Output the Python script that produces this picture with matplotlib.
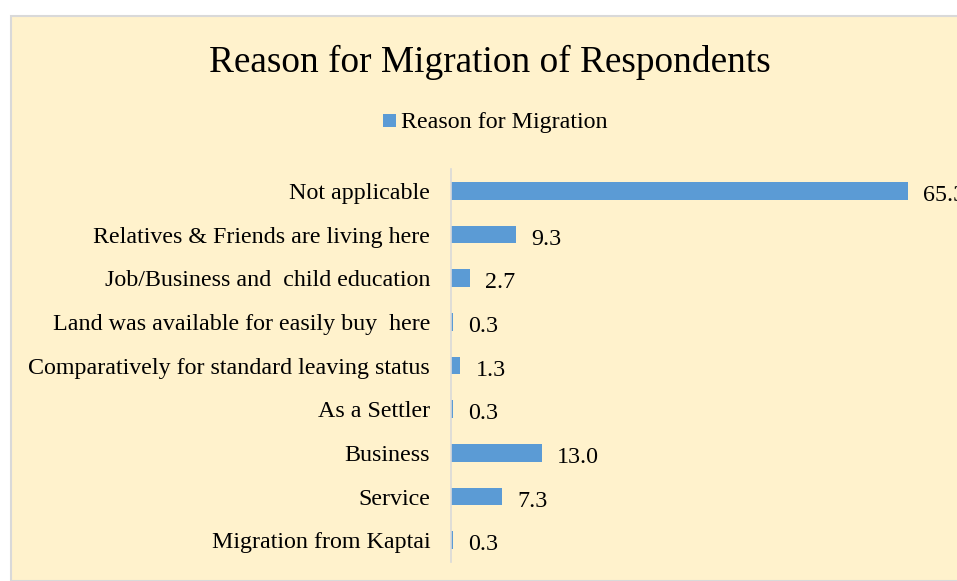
import matplotlib
matplotlib.use("Agg")
import matplotlib.pyplot as plt
from matplotlib.patches import Rectangle

categories = [
    "Not applicable",
    "Relatives & Friends are living here",
    "Job/Business and  child education",
    "Land was available for easily buy  here",
    "Comparatively for standard leaving status",
    "As a Settler",
    "Business",
    "Service",
    "Migration from Kaptai",
]
values = [65.3, 9.3, 2.7, 0.3, 1.3, 0.3, 13.0, 7.3, 0.3]
series_name = "Reason for Migration"
title = "Reason for Migration of Respondents"

bar_color = "#5B9BD5"
panel_color = "#FFF2CC"
font = "Liberation Serif"
label_size = 17.3

W, H, DPI = 957, 581, 100
fig = plt.figure(figsize=(W / DPI, H / DPI), dpi=DPI, facecolor="white")

# chart panel behind everything
fig.patches.append(Rectangle((11 / W, 0), 1.2, 1 - 16 / H, transform=fig.transFigure,
                             facecolor=panel_color, edgecolor="#D9D9D9", linewidth=1.5,
                             zorder=-10))

ax = fig.add_axes([451 / W, 1 - 562 / H, 490 / W, (562 - 169) / H])
ax.set_facecolor("none")
ax.set_zorder(1)

ypos = list(range(len(categories)))
ax.barh(ypos, values, height=0.41, color=bar_color, zorder=2)
ax.set_ylim(len(categories) - 0.5, -0.5)
ax.set_xlim(0, 70)
ax.set_yticks(ypos)
ax.set_yticklabels(categories, fontfamily=font, fontsize=label_size, color="#000000",
                   va="center_baseline")
ax.tick_params(axis="y", length=0, pad=15)
ax.set_xticks([])
for s in ["top", "right", "bottom"]:
    ax.spines[s].set_visible(False)
ax.spines["left"].set_color("#D9D9D9")
ax.spines["left"].set_linewidth(1.2)

for y, v in zip(ypos, values):
    ax.annotate(f"{v:.1f}", xy=(v, y), xytext=(11, -1.5), textcoords="offset points",
                va="center_baseline", ha="left", fontfamily=font, fontsize=label_size,
                color="#000000", annotation_clip=False)

fig.text(490 / W, 1 - 58 / H, title, ha="center", va="center_baseline",
         fontfamily=font, fontsize=26.8, color="#000000")

# legend
fig.patches.append(Rectangle((383 / W, 1 - 127 / H), 13 / W, 13 / H,
                             transform=fig.transFigure, facecolor=bar_color,
                             edgecolor="none", zorder=3))
fig.text(401 / W, 1 - 120 / H, series_name, ha="left", va="center_baseline",
         fontfamily=font, fontsize=label_size, color="#000000")

fig.savefig("out.png", dpi=DPI, facecolor="white")
